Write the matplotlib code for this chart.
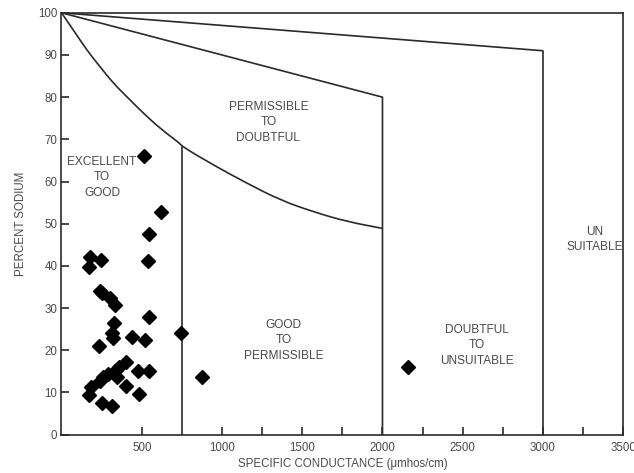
import matplotlib
matplotlib.use("Agg")
import matplotlib.pyplot as plt
from matplotlib.ticker import FixedLocator
from matplotlib.path import Path
from matplotlib.patches import PathPatch

plt.rcParams['font.family'] = ['Liberation Sans', 'DejaVu Sans']

# Sample points: specific conductance (umhos/cm) and percent sodium
cond = [516, 621, 546, 538, 178, 244, 172, 240, 251, 300, 334, 546, 330, 315,
        323, 438, 519, 236, 744, 400, 360, 340, 479, 548, 290, 261, 240, 348,
        400, 184, 173, 482, 253, 313, 878, 2160]
sodium = [66.0, 52.8, 47.6, 41.2, 42.0, 41.4, 39.8, 34.1, 33.5, 32.5, 30.8, 28.0,
          26.4, 24.2, 22.8, 23.2, 22.5, 21.1, 24.2, 17.3, 16.1, 15.3, 15.0, 15.2,
          14.3, 13.6, 12.8, 13.7, 11.6, 11.4, 9.3, 9.6, 7.4, 6.7, 13.6, 16.1]

# Class boundaries (Wilcox diagram)
curve_x = [0, 74, 157, 240, 323, 407, 510, 614, 739, 756, 947, 1155, 1363, 1571, 1779, 2000]
curve_y = [100, 95.9, 91.2, 87.2, 83.3, 80.1, 76.2, 72.6, 69.0, 68.2, 63.9, 59.6, 55.6, 52.8, 50.5, 48.9]
line2_x = [0, 2000, 2000]
line2_y = [100, 80, 0]
line3_x = [0, 3000, 3000]
line3_y = [100, 91, 0]
v750_x = [750, 750]
v750_y = [0, 68.3]

regions = [
    ("EXCELLENT\nTO\nGOOD", 253, 61),
    ("PERMISSIBLE\nTO\nDOUBTFUL", 1289, 74),
    ("GOOD\nTO\nPERMISSIBLE", 1382, 22.4),
    ("DOUBTFUL\nTO\nUNSUITABLE", 2590, 21.2),
    ("UN\nSUITABLE", 3322, 46.3),
]

x_major = [500, 1000, 1500, 2000, 2500, 3000, 3500]
x_minor = [1250, 1750, 2250, 2750, 3250]
y_ticks = list(range(0, 101, 10))

fig = plt.figure(figsize=(6.34, 4.73), dpi=100)
ax = fig.add_axes([0.097, 0.081, 0.886, 0.892])

lc = '#2a2a2a'
lw = 1.2

# smooth curve through boundary points (quadratic Bezier via midpoints)
verts = [(curve_x[0], curve_y[0])]
codes = [Path.MOVETO]
for i in range(1, len(curve_x) - 1):
    mx = (curve_x[i] + curve_x[i + 1]) / 2
    my = (curve_y[i] + curve_y[i + 1]) / 2
    verts += [(curve_x[i], curve_y[i]), (mx, my)]
    codes += [Path.CURVE3, Path.CURVE3]
verts.append((curve_x[-1], curve_y[-1]))
codes.append(Path.LINETO)
ax.add_patch(PathPatch(Path(verts, codes), fill=False, edgecolor=lc, lw=lw))

ax.plot(line2_x, line2_y, color=lc, lw=lw)
ax.plot(line3_x, line3_y, color=lc, lw=lw)
ax.plot(v750_x, v750_y, color=lc, lw=lw)

ax.plot(cond, sodium, linestyle='none', marker='D', markersize=7.5,
        color='black', zorder=5)

tc = '#4a4a4a'
for txt, x, y in regions:
    ax.text(x, y, txt, ha='center', va='center', fontsize=8.6, color=tc,
            linespacing=1.4)

ax.set_xlim(0, 3500)
ax.set_ylim(0, 100)
ax.xaxis.set_major_locator(FixedLocator(x_major))
ax.xaxis.set_minor_locator(FixedLocator(x_minor))
ax.set_yticks(y_ticks)
ax.tick_params(axis='both', which='both', direction='in', length=6, width=1.2,
               color=lc, labelsize=8.3, labelcolor=tc)
ax.tick_params(axis='x', pad=5)
ax.tick_params(axis='y', pad=3)
for s in ax.spines.values():
    s.set_color(lc)
    s.set_linewidth(1.2)

ax.set_xlabel("SPECIFIC CONDUCTANCE (\u03bcmhos/cm)", fontsize=8.3, color=tc, labelpad=3)
ax.set_ylabel("PERCENT SODIUM", fontsize=8.3, color=tc, labelpad=8)

fig.savefig("out.png", dpi=100)
